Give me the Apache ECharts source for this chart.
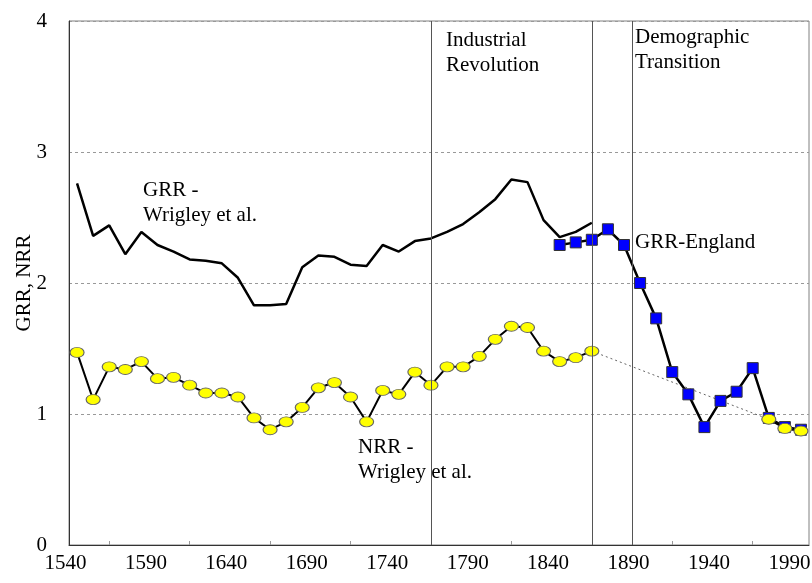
<!DOCTYPE html>
<html>
<head>
<meta charset="utf-8">
<script src="https://cdn.jsdelivr.net/npm/echarts@6/dist/echarts.min.js"></script>
<style>
  html, body { margin: 0; padding: 0; background: #fff; }
  #chart { width: 812px; height: 583px; }
</style>
</head>
<body>
<div id="chart"></div>
<script>
// decade mid-points
let years = [1545, 1555, 1565, 1575, 1585, 1595, 1605, 1615, 1625, 1635,
    1645, 1655, 1665, 1675, 1685, 1695, 1705, 1715, 1725, 1735,
    1745, 1755, 1765, 1775, 1785, 1795, 1805, 1815, 1825, 1835,
    1845, 1855, 1865, 1875, 1885, 1895, 1905, 1915, 1925, 1935,
    1945, 1955, 1965, 1975, 1985, 1995]

// GRR Wrigley et al., 1545-1865
let grrWrigley = [2.76, 2.36, 2.44, 2.22, 2.39, 2.29, 2.24, 2.18, 2.17, 2.15,
    2.04, 1.83, 1.83, 1.84, 2.12, 2.21, 2.20, 2.14, 2.13, 2.29,
    2.24, 2.32, 2.34, 2.39, 2.45, 2.54, 2.64, 2.79, 2.77, 2.48,
    2.35, 2.39, 2.46]
// GRR England, 1845-1995
let grrEngland = [2.29, 2.31, 2.33, 2.41, 2.29, 2.00, 1.73, 1.32, 1.15, 0.90,
    1.10, 1.17, 1.35, 0.97, 0.90, 0.88]
// NRR Wrigley et al., 1545-1865
let nrrEarly = [1.47, 1.11, 1.36, 1.34, 1.40, 1.27, 1.28, 1.22, 1.16, 1.16,
    1.13, 0.97, 0.88, 0.94, 1.05, 1.20, 1.24, 1.13, 0.94, 1.18,
    1.15, 1.32, 1.22, 1.36, 1.36, 1.44, 1.57, 1.67, 1.66, 1.48,
    1.40, 1.43, 1.48]
// NRR, 1975-1995
let nrrLate = [0.96, 0.89, 0.87]

let xLabels = [1540, 1590, 1640, 1690, 1740, 1790, 1840, 1890, 1940, 1990]
let xTicks = [1565, 1615, 1665, 1715, 1765, 1815, 1865, 1915, 1965]
let eraLines = [1765, 1865, 1890]

let serif = '"Liberation Serif", "Times New Roman", serif'

function pairs(ys, start, vals) {
    return vals.map((v, i) => [ys[start + i], v])
}

let grrWData = pairs(years, 0, grrWrigley)
let grrEData = pairs(years, years.length - grrEngland.length, grrEngland)
let nrrEData = pairs(years, 0, nrrEarly)
let nrrLData = pairs(years, years.length - nrrLate.length, nrrLate)
let linkData = [nrrEData[nrrEData.length - 1], nrrLData[0]]

let chart = echarts.init(document.getElementById('chart'))

let option = {
    animation: false,
    backgroundColor: '#ffffff',
    grid: {
        left: 69, right: 3, top: 21, bottom: 38,
        containLabel: false,
        outerBoundsMode: 'none',
        show: true, borderColor: '#808080', borderWidth: 1
    },
    xAxis: {
        type: 'value',
        min: 1540,
        max: 2000,
        interval: 50,
        splitLine: {show: false},
        axisLine: {show: true, onZero: false, lineStyle: {color: '#333', width: 1}},
        axisTick: {
            show: true, inside: true, length: 4,
            customValues: xTicks,
            lineStyle: {color: '#999'}
        },
        axisLabel: {
            customValues: xLabels,
            formatter: v => String(v),
            fontFamily: serif, fontSize: 21, color: '#000',
            margin: 8,
            padding: [0, 7, 0, 0]
        }
    },
    yAxis: {
        type: 'value',
        min: 0,
        max: 4,
        interval: 1,
        name: 'GRR, NRR',
        nameLocation: 'middle',
        nameGap: 34,
        nameMoveOverlap: false,
        nameTextStyle: {fontFamily: serif, fontSize: 21, color: '#000'},
        axisLine: {show: true, lineStyle: {color: '#333', width: 1}},
        axisTick: {show: false},
        axisLabel: {fontFamily: serif, fontSize: 21, color: '#000', margin: 22},
        splitLine: {
            show: true,
            lineStyle: {color: '#999', type: [3, 3], width: 1}
        }
    },
    series: [
        {
            name: 'NRR link',
            type: 'line',
            data: linkData,
            showSymbol: false,
            symbol: 'none',
            lineStyle: {color: '#666', width: 1, type: [2, 3]},
            markLine: {
                silent: true,
                symbol: 'none',
                label: {show: false},
                lineStyle: {color: '#555', width: 1, type: 'solid'},
                data: eraLines.map(v => ({xAxis: v}))
            },
            z: 1
        },
        {
            name: 'GRR - Wrigley et al.',
            type: 'line',
            data: grrWData,
            symbol: 'none',
            lineStyle: {color: '#000', width: 2.5},
            z: 2
        },
        {
            name: 'GRR-England',
            type: 'line',
            data: grrEData,
            symbol: 'rect',
            symbolSize: 11,
            itemStyle: {color: '#0000ff', borderColor: '#333', borderWidth: 1},
            lineStyle: {color: '#000', width: 2.5},
            z: 3
        },
        {
            name: 'NRR - Wrigley et al.',
            type: 'line',
            data: nrrEData,
            symbol: 'circle',
            symbolSize: [14, 10],
            itemStyle: {color: '#ffff00', borderColor: '#666', borderWidth: 1},
            lineStyle: {color: '#000', width: 2},
            z: 4
        },
        {
            name: 'NRR late',
            type: 'line',
            data: nrrLData,
            symbol: 'circle',
            symbolSize: [14, 10],
            itemStyle: {color: '#ffff00', borderColor: '#666', borderWidth: 1},
            lineStyle: {color: '#000', width: 2},
            z: 4
        }
    ],
    graphic: [
        {type: 'text', left: 446, top: 28, z: 10,
         style: {text: 'Industrial\nRevolution', font: '21px ' + serif, lineHeight: 25, fill: '#000'}},
        {type: 'text', left: 635, top: 25, z: 10,
         style: {text: 'Demographic\nTransition', font: '21px ' + serif, lineHeight: 25, fill: '#000'}},
        {type: 'text', left: 143, top: 178, z: 10,
         style: {text: 'GRR -\nWrigley et al.', font: '21px ' + serif, lineHeight: 25, fill: '#000'}},
        {type: 'text', left: 358, top: 435, z: 10,
         style: {text: 'NRR -\nWrigley et al.', font: '21px ' + serif, lineHeight: 25, fill: '#000'}},
        {type: 'text', left: 635, top: 230, z: 10,
         style: {text: 'GRR-England', font: '21px ' + serif, lineHeight: 25, fill: '#000'}}
    ]
}

chart.setOption(option)
</script>
</body>
</html>
